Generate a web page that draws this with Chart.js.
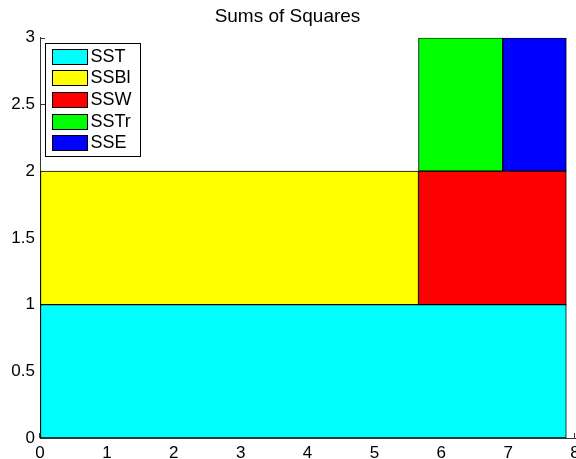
<!DOCTYPE html>
<html>
<head>
<meta charset="utf-8">
<script src="https://cdn.jsdelivr.net/npm/chart.js@4/dist/chart.umd.min.js"></script>
<style>
  html, body { margin: 0; padding: 0; background: #fff; }
  #wrap { width: 576px; height: 459px; position: relative; }
</style>
</head>
<body>
<div id="wrap"><canvas id="sumsCanvas"></canvas></div>
<script>
// rows of the partition diagram, bottom to top
var bandLabels = ['0-1', '1-2', '2-3'];

// one rectangle per sum of squares: which row, where it starts and ends
var seriesLabels = ['SST', 'SSBl', 'SSW', 'SSTr', 'SSE'];
var seriesBand = [0, 1, 1, 2, 2];
var seriesFrom = [0, 0, 5.66, 5.66, 6.92];
var seriesTo = [7.87, 5.66, 7.87, 6.92, 7.87];
var seriesColors = ['#00ffff', '#ffff00', '#ff0000', '#00ff00', '#0000ff'];

var xMin = 0, xMax = 8, xStep = 1;
var yMin = 0, yMax = 3, yStep = 0.5;

var FONT = '"Liberation Sans", Arial, Helvetica, sans-serif';

function buildDatasets() {
  return seriesLabels.map(function (name, i) {
    var data = bandLabels.map(function () { return null; });
    data[seriesBand[i]] = [seriesFrom[i], seriesTo[i]];
    return {
      label: name,
      data: data,
      backgroundColor: seriesColors[i],
      borderColor: '#000',
      borderWidth: 1,
      borderSkipped: false,
      grouped: false,
      barPercentage: 1,
      categoryPercentage: 1,
      yAxisID: 'band',
      xAxisID: 'x'
    };
  });
}

// short tick marks pointing into the plot, under the bars
var innerTicks = {
  id: 'innerTicks',
  beforeDatasetsDraw: function (chart) {
    var ctx = chart.ctx;
    var area = chart.chartArea;
    var ys = chart.scales.y;
    var xs = chart.scales.x;
    var len = 5;
    ctx.save();
    ctx.strokeStyle = '#333';
    ctx.lineWidth = 1;
    ctx.beginPath();
    ys.ticks.forEach(function (t) {
      var py = Math.round(ys.getPixelForValue(t.value)) + 0.5;
      ctx.moveTo(area.left, py);
      ctx.lineTo(area.left + len, py);
    });
    xs.ticks.forEach(function (t) {
      var px = Math.round(xs.getPixelForValue(t.value)) - 0.5;
      ctx.moveTo(px, area.bottom);
      ctx.lineTo(px, area.bottom - len);
    });
    ctx.stroke();
    ctx.restore();
  }
};

// legend box drawn inside the plot, top-left corner
var boxLegend = {
  id: 'boxLegend',
  afterDatasetsDraw: function (chart) {
    var ctx = chart.ctx;
    var area = chart.chartArea;
    var sets = chart.data.datasets;
    var bx = Math.round(area.left + 5) + 0.5;
    var by = Math.round(area.top + 5) + 0.5;
    var rowH = 21.67;
    ctx.save();
    ctx.fillStyle = '#fff';
    ctx.fillRect(bx, by, 95, 113);
    ctx.strokeStyle = '#000';
    ctx.lineWidth = 1;
    ctx.strokeRect(bx, by, 95, 113);
    ctx.font = '18px ' + FONT;
    ctx.textBaseline = 'middle';
    ctx.textAlign = 'left';
    for (var i = 0; i < sets.length; i += 1) {
      var sy = Math.round(by + 5 + i * rowH) + 0.5;
      ctx.fillStyle = sets[i].backgroundColor;
      ctx.fillRect(bx + 7, sy, 35, 15);
      ctx.strokeStyle = '#000';
      ctx.strokeRect(bx + 7, sy, 35, 15);
      ctx.fillStyle = '#000';
      ctx.fillText(sets[i].label, bx + 45, sy + 8);
    }
    ctx.restore();
  }
};

new Chart(document.getElementById('sumsCanvas').getContext('2d'), {
  type: 'bar',
  data: { labels: bandLabels, datasets: buildDatasets() },
  plugins: [innerTicks, boxLegend],
  options: {
    indexAxis: 'y',
    responsive: true,
    maintainAspectRatio: false,
    animation: false,
    layout: { padding: { top: 0, right: 1, bottom: 0, left: 0 } },
    plugins: {
      legend: { display: false },
      tooltip: { enabled: false },
      title: {
        display: true,
        text: 'Sums of Squares',
        color: '#000',
        font: { family: FONT, size: 19, weight: 'normal', lineHeight: 1.2 },
        padding: { top: 5, bottom: 10 }
      }
    },
    scales: {
      band: {
        type: 'category',
        axis: 'y',
        reverse: true,
        offset: true,
        display: false
      },
      y: {
        type: 'linear',
        axis: 'y',
        position: 'left',
        offset: false,
        min: yMin,
        max: yMax,
        grid: { drawOnChartArea: false, drawTicks: false, offset: false },
        border: { display: true, color: '#333', width: 1 },
        ticks: {
          stepSize: yStep,
          color: '#000',
          padding: 5,
          font: { family: FONT, size: 17 },
          callback: function (v) { return String(v); }
        },
        afterFit: function (s) { s.width = 40; }
      },
      x: {
        type: 'linear',
        position: 'bottom',
        offset: false,
        min: xMin,
        max: xMax,
        grid: { drawOnChartArea: false, drawTicks: false, offset: false },
        border: { display: true, color: '#333', width: 1 },
        ticks: {
          stepSize: xStep,
          color: '#000',
          padding: 5,
          maxRotation: 0,
          font: { family: FONT, size: 17 }
        },
        afterFit: function (s) {
          s.height = 21;
          s.paddingRight = 0;
          s.paddingLeft = 0;
        }
      }
    }
  }
});
</script>
</body>
</html>
